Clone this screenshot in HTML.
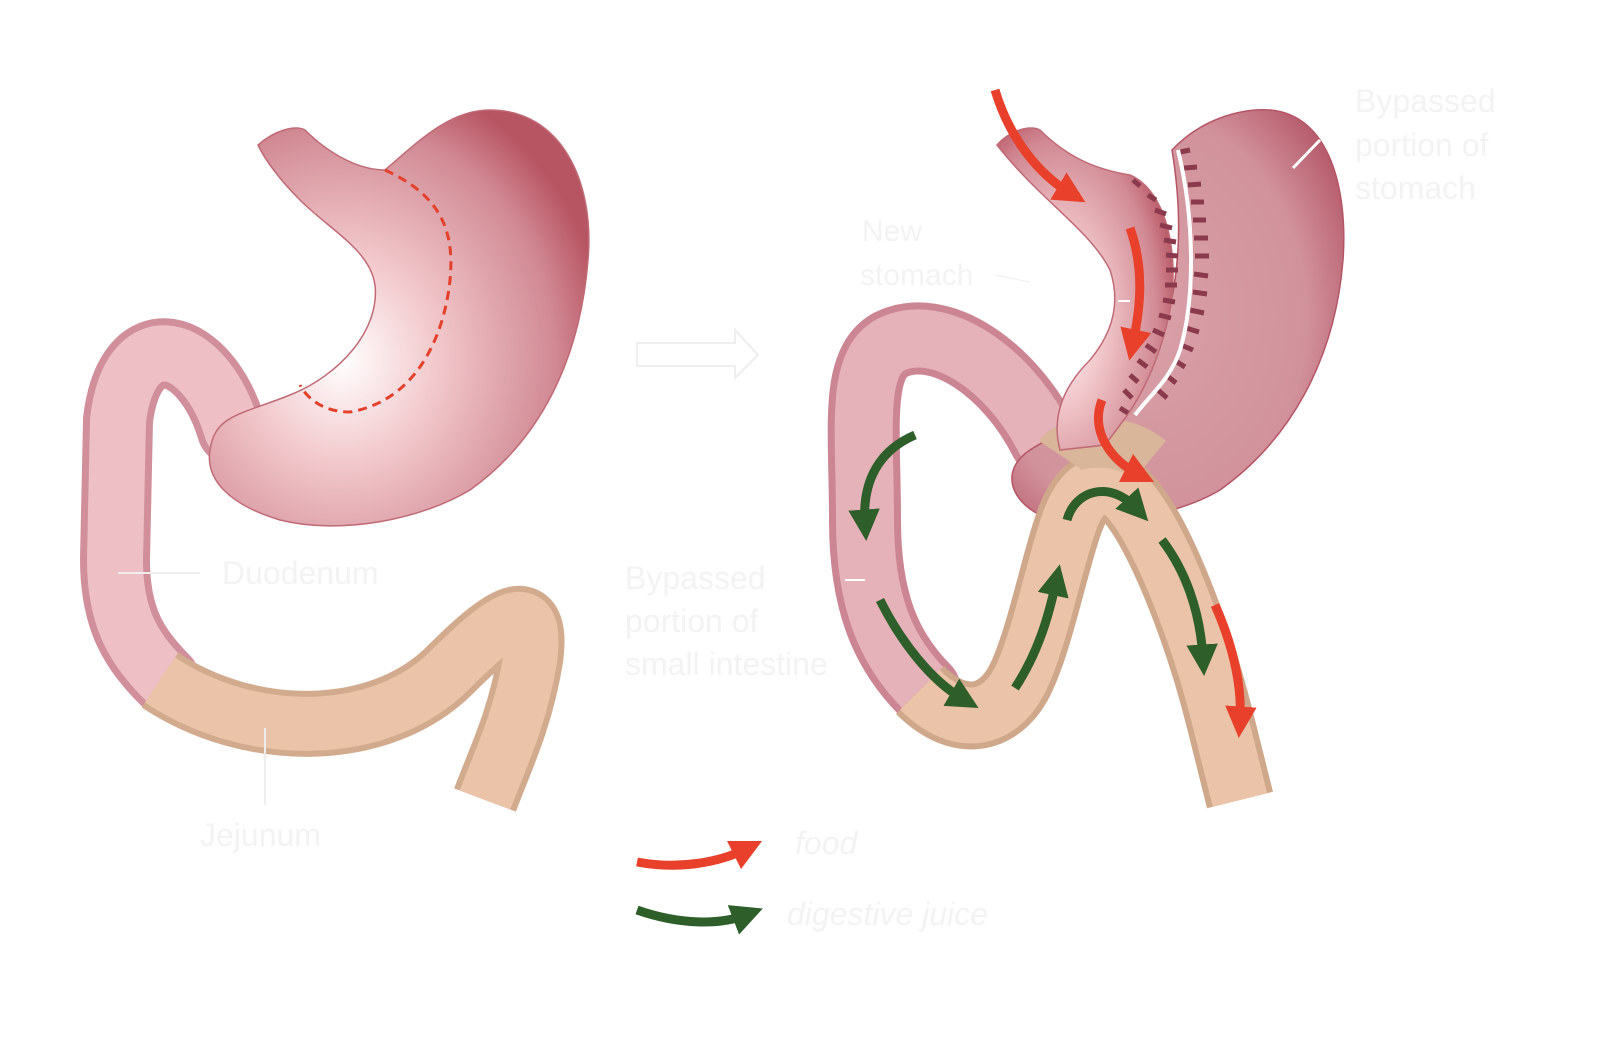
<!DOCTYPE html>
<html><head><style>
html,body{margin:0;padding:0;background:#fff;width:1600px;height:1037px;overflow:hidden}
svg text{font-family:"Liberation Sans",sans-serif;fill:#f3f3f3}
</style></head><body>
<svg width="1600" height="1037" viewBox="0 0 1600 1037" xmlns="http://www.w3.org/2000/svg">
<defs>
<radialGradient id="st" cx="0.35" cy="0.6" r="0.7">
<stop offset="0" stop-color="#fff"/><stop offset="0.35" stop-color="#f2c9cc"/><stop offset="0.8" stop-color="#d18a94"/><stop offset="1" stop-color="#b85563"/></radialGradient>
<radialGradient id="st2" cx="0.4" cy="0.5" r="0.7">
<stop offset="0" stop-color="#d9a0a8"/><stop offset="0.7" stop-color="#d1929b"/><stop offset="1" stop-color="#b35566"/></radialGradient>
<marker id="ar" markerWidth="3.5" markerHeight="3.5" refX="1.5" refY="1.75" orient="auto"><path d="M0,0 L3.5,1.75 L0,3.5 z" fill="#e8402a"/></marker>
<marker id="ag" markerWidth="3.5" markerHeight="3.5" refX="1.5" refY="1.75" orient="auto"><path d="M0,0 L3.5,1.75 L0,3.5 z" fill="#2e5e2a"/></marker>
</defs>

<!-- LEFT -->
<path d="M232 430 C205 340 130 320 118 420 L115 560 C115 620 135 650 165 680" fill="none" stroke="#d08f9b" stroke-width="70" stroke-linecap="round"/>
<path d="M232 430 C205 340 130 320 118 420 L115 560 C115 620 135 650 165 680" fill="none" stroke="#eec0c6" stroke-width="56" stroke-linecap="round"/>
<path d="M160 680 C250 740 380 740 450 670 C500 620 540 590 530 660 C520 720 500 760 485 800" fill="none" stroke="#d2ab8f" stroke-width="66"/>
<path d="M160 680 C250 740 380 740 450 670 C500 620 540 590 530 660 C520 720 500 760 485 800" fill="none" stroke="#ebc3a8" stroke-width="54"/>
<path d="M258 145 C275 130 295 125 305 130 C330 155 360 170 385 170 C420 140 450 110 490 110 C560 110 595 180 588 260 C580 360 540 440 470 490 C420 520 340 535 280 520 C230 505 205 480 210 450 C215 415 240 415 290 395 C340 375 380 330 375 285 C370 250 330 230 300 200 C280 180 265 160 258 145 Z" fill="url(#st)" stroke="#c06a76" stroke-width="1.5"/>
<path d="M385 170 C440 195 455 230 450 280 C445 330 420 400 350 412 C320 412 305 395 300 385" fill="none" stroke="#e4402a" stroke-width="3" stroke-dasharray="9,6"/>
<line x1="118" y1="573" x2="200" y2="573" stroke="#eee" stroke-width="2"/>
<line x1="265" y1="728" x2="265" y2="805" stroke="#eee" stroke-width="2"/>
<text x="222" y="584" font-size="32">Duodenum</text>
<text x="200" y="846" font-size="32">Jejunum</text>

<path d="M637 343 L735 343 L735 330 L758 355 L735 378 L735 366 L637 366 Z" fill="none" stroke="#eee" stroke-width="2"/>

<!-- RIGHT -->
<path d="M1045 440 C1010 370 940 320 890 345 C855 365 865 430 865 520 C865 600 885 650 925 690" fill="none" stroke="#cc8593" stroke-width="72" stroke-linecap="round"/>
<path d="M1045 440 C1010 370 940 320 890 345 C855 365 865 430 865 520 C865 600 885 650 925 690" fill="none" stroke="#e6b2ba" stroke-width="58" stroke-linecap="round"/>
<path d="M1172 150 C1200 120 1240 108 1270 110 C1330 115 1348 190 1343 260 C1335 360 1290 440 1220 490 C1170 520 1080 530 1040 515 C1010 500 1000 470 1030 450 C1060 430 1100 420 1130 400 C1170 340 1190 260 1172 150 Z" fill="url(#st2)" stroke="#b55566" stroke-width="1.5"/>
<path d="M920 690 C960 730 1000 720 1020 680 C1040 640 1055 560 1070 520 C1085 480 1105 480 1125 495 C1160 530 1200 640 1220 720 L1240 800" fill="none" stroke="#cfa78a" stroke-width="68"/>
<path d="M920 690 C960 730 1000 720 1020 680 C1040 640 1055 560 1070 520 C1085 480 1105 480 1125 495 C1160 530 1200 640 1220 720 L1240 800" fill="none" stroke="#ebc3a8" stroke-width="56"/>
<path d="M1060 455 C1070 440 1120 435 1150 460" fill="none" stroke="#d9b59a" stroke-width="50"/>
<path d="M997 145 C1010 130 1030 125 1040 130 C1070 160 1100 170 1130 175 C1165 190 1180 250 1170 310 C1160 360 1140 400 1120 425 L1105 445 L1060 450 C1052 420 1060 390 1090 360 C1115 330 1120 300 1110 270 C1090 230 1040 200 997 145 Z" fill="url(#st)" stroke="#c06a76" stroke-width="1.5"/>
<g stroke="#8a3a4c" stroke-width="5">
<line x1="1133" y1="180" x2="1140" y2="186"/><line x1="1148" y1="195" x2="1156" y2="200"/><line x1="1155" y1="210" x2="1166" y2="214"/><line x1="1160" y1="225" x2="1172" y2="228"/><line x1="1164" y1="240" x2="1176" y2="242"/><line x1="1166" y1="255" x2="1178" y2="256"/><line x1="1166" y1="270" x2="1178" y2="270"/><line x1="1165" y1="285" x2="1177" y2="285"/><line x1="1163" y1="300" x2="1175" y2="302"/><line x1="1159" y1="315" x2="1171" y2="318"/><line x1="1153" y1="330" x2="1164" y2="335"/><line x1="1146" y1="345" x2="1156" y2="352"/><line x1="1138" y1="360" x2="1147" y2="367"/><line x1="1130" y1="375" x2="1138" y2="382"/><line x1="1124" y1="390" x2="1132" y2="398"/><line x1="1120" y1="408" x2="1128" y2="413"/>
<line x1="1180" y1="152" x2="1190" y2="150"/><line x1="1184" y1="168" x2="1197" y2="167"/><line x1="1188" y1="185" x2="1201" y2="184"/><line x1="1191" y1="202" x2="1204" y2="202"/><line x1="1193" y1="220" x2="1206" y2="220"/><line x1="1194" y1="238" x2="1208" y2="238"/><line x1="1195" y1="256" x2="1209" y2="256"/><line x1="1194" y1="274" x2="1208" y2="276"/><line x1="1193" y1="292" x2="1207" y2="294"/><line x1="1190" y1="310" x2="1204" y2="313"/><line x1="1186" y1="328" x2="1199" y2="332"/><line x1="1181" y1="345" x2="1193" y2="350"/><line x1="1174" y1="360" x2="1185" y2="367"/><line x1="1166" y1="375" x2="1176" y2="383"/><line x1="1158" y1="390" x2="1167" y2="398"/>
</g>
<path d="M1178 150 C1195 220 1195 300 1180 350 C1170 380 1150 395 1135 415" fill="none" stroke="#fff" stroke-width="4"/>
<g fill="none" stroke="#e8402a" stroke-width="9">
<path d="M995 90 C1010 140 1040 175 1070 193" marker-end="url(#ar)"/>
<path d="M1130 228 C1145 270 1140 310 1133 343" marker-end="url(#ar)"/>
<path d="M1102 400 C1090 430 1110 460 1138 474" marker-end="url(#ar)"/>
<path d="M1215 605 C1235 650 1242 690 1240 720" marker-end="url(#ar)"/>
<path d="M637 862 C680 870 720 862 746 849" marker-end="url(#ar)"/>
</g>
<g fill="none" stroke="#2e5e2a" stroke-width="9">
<path d="M915 435 C880 450 862 480 865 523" marker-end="url(#ag)"/>
<path d="M880 600 C900 640 930 680 963 699" marker-end="url(#ag)"/>
<path d="M1015 688 C1040 650 1050 610 1056 582" marker-end="url(#ag)"/>
<path d="M1067 520 C1075 490 1110 480 1136 508" marker-end="url(#ag)"/>
<path d="M1162 540 C1185 570 1200 610 1203 658" marker-end="url(#ag)"/>
<path d="M637 910 C680 925 720 925 746 915" marker-end="url(#ag)"/>
</g>
<line x1="1118" y1="301" x2="1130" y2="301" stroke="#fff" stroke-width="2"/>
<line x1="845" y1="580" x2="865" y2="580" stroke="#fff" stroke-width="2"/>
<line x1="1293" y1="168" x2="1320" y2="140" stroke="#fff" stroke-width="3"/>
<line x1="995" y1="275" x2="1030" y2="282" stroke="#eee" stroke-width="1"/>
<text x="1355" y="112" font-size="32">Bypassed</text>
<text x="1355" y="156" font-size="32">portion of</text>
<text x="1355" y="199" font-size="32">stomach</text>
<text x="862" y="241" font-size="30">New</text>
<text x="860" y="285" font-size="30">stomach</text>
<text x="625" y="589" font-size="32">Bypassed</text>
<text x="625" y="632" font-size="32">portion of</text>
<text x="625" y="675" font-size="32">small intestine</text>
<text x="795" y="854" font-size="32" font-style="italic">food</text>
<text x="787" y="925" font-size="32" font-style="italic">digestive juice</text>
</svg>
</body></html>
